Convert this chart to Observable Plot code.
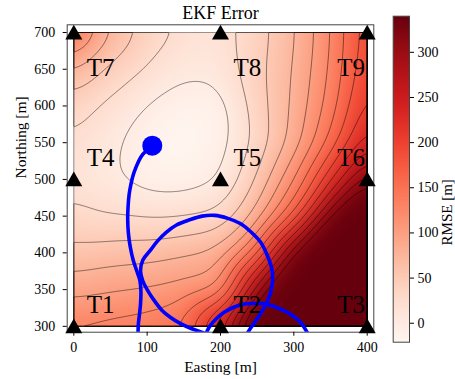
<!DOCTYPE html>
<html><head><meta charset="utf-8">
<script src="https://cdn.jsdelivr.net/npm/d3@7"></script>
<script src="https://cdn.jsdelivr.net/npm/@observablehq/plot@0.6"></script>
<style>
body{margin:0;background:#fff;}
#chart{position:relative;width:455px;height:379px;overflow:hidden;}
#chart svg{position:absolute;top:0;}
</style></head><body><div id="chart"></div>
<script>
// RMSE field (rows north -> south, columns west -> east)
const gridX = [0, 50, 100, 150, 200, 250, 300, 350, 400];
const gridY = [700, 650, 600, 550, 500, 450, 400, 350, 300];
const rmse = [
  [155, 74, 40, 20, 14, 39, 71, 123, 195],
  [78, 44, 22, 6, 8, 42, 75, 127, 200],
  [37, 18, -2, -15, -12, 38, 78, 135, 215],
  [22, 5, -15, -21, -12, 32, 82, 155, 245],
  [15, 3, -12, -14, -2, 50, 120, 215, 320],
  [33, 25, 22, 24, 30, 80, 170, 330, 410],
  [57, 62, 64, 72, 82, 160, 320, 430, 500],
  [90, 97, 102, 110, 118, 290, 420, 500, 550],
  [132, 136, 140, 152, 250, 400, 500, 550, 600]
];
const levels = [0, 25, 50, 75, 100, 125, 150, 175, 200, 225, 250, 275, 300, 325];

// Sensors
const sensorName = ["T1","T2","T3","T4","T5","T6","T7","T8","T9"];
const sensorX = [0, 200, 400, 0, 200, 400, 0, 200, 400];
const sensorY = [300, 300, 300, 500, 500, 500, 700, 700, 700];

// Trajectory (blue), three visible pieces
const trackA = [[107,546],[100,540],[94,534],[89,526],[85,517],[81,506],[78,494],[75.5,480],[74,463],[73.5,445],[74.5,426],[77,408],[81,390],[86,375],[90,363],[91.5,348],[91,331],[89.5,316],[88,303],[87.5,285]];
const trackB = [[190,283],[177,291],[160,297],[145,304],[132,312],[120,322],[109,336],[100,350],[94,362],[91,375],[94,390],[104,403],[114,416],[126,428],[140,438],[158,445],[175,450],[192,451],[210,447],[227,440],[242,428],[255,414],[264,396],[270,378],[271,362],[268,345],[262,330],[255,318],[247,306],[240,296],[233,285]];
const trackC = [[180,285],[182,294],[186,301],[195,311],[205,319],[218,326],[232,330.5],[245.5,331],[258,331],[270,328],[283,323],[296,316],[309,305.5],[318,292],[322,285]];
const startPoint = [107, 546];

const xTicks = [0, 100, 200, 300, 400];
const yTicks = [300, 350, 400, 450, 500, 550, 600, 650, 700];
const cbTicks = [0, 50, 100, 150, 200, 250, 300];
const cbDomain = [-21, 340];

const field = gridY.flatMap((y, i) => gridX.map((x, j) => ({x, y, v: rmse[i][j]})));
const sensors = sensorName.map((name, i) => ({name, x: sensorX[i], y: sensorY[i]}));
const track = [trackA, trackB, trackC].flatMap((seg, k) => seg.map(([x, y]) => ({x, y, seg: k})));

const FONT = "'Liberation Serif', 'Times New Roman', serif";
const bounds = {x1: 0, y1: 300, x2: 400, y2: 700};
const axisFont = {fontFamily: FONT, fontSize: 14};
const labelDx = d => d.x === 400 ? -30 : 13;
const labelDy = d => d.y === 700 ? 43 : -13;

const main = Plot.plot({
  width: 455, height: 379,
  marginLeft: 66.7, marginRight: 81.7, marginTop: 24.3, marginBottom: 47.3,
  style: {fontFamily: FONT, fontSize: "14px", color: "black", background: "transparent"},
  x: {domain: [-9, 409], label: null},
  y: {domain: [292, 710.5], label: null},
  color: {type: "linear", scheme: "reds", domain: cbDomain, clamp: true},
  marks: [
    Plot.raster(field, {x: "x", y: "y", fill: "v", ...bounds, interpolate: "barycentric", pixelSize: 1, blur: 10}),
    Plot.contour(field, {x: "x", y: "y", value: "v", ...bounds, interpolate: "barycentric", pixelSize: 1, blur: 12,
      thresholds: levels, fill: "none", stroke: "black", strokeOpacity: 0.45, strokeWidth: 1}),
    Plot.frame({stroke: "#444"}),
    Plot.axisX({ticks: xTicks, tickSize: 4, tickPadding: 6, label: null, ...axisFont}),
    Plot.axisY({ticks: yTicks, tickSize: 4, tickPadding: 8, label: null, ...axisFont}),
    Plot.line(track, {x: "x", y: "y", z: "seg", stroke: "#0000ff", strokeWidth: 3.6, curve: "catmull-rom", clip: "frame"}),
    Plot.dot([startPoint], {x: d => d[0], y: d => d[1], r: 10, fill: "#0000ff"}),
    Plot.dot(sensors, {x: "x", y: "y", symbol: "triangle", r: 6.3, fill: "black", dy: 2}),
    ...sensors.map(s => Plot.text([s], {x: "x", y: "y", text: "name", textAnchor: "start", lineAnchor: "bottom",
      dx: labelDx(s), dy: labelDy(s), fontSize: 25, fontFamily: FONT})),
    Plot.text(["EKF Error"], {text: d => d, frameAnchor: "top", dy: -12, fontSize: 18, lineAnchor: "middle", fontFamily: FONT}),
    Plot.text(["Easting [m]"], {text: d => d, frameAnchor: "bottom", dy: 35, fontSize: 15.5, lineAnchor: "middle", fontFamily: FONT}),
    Plot.text(["Northing [m]"], {text: d => d, frameAnchor: "left", dx: -46, rotate: -90, fontSize: 15.5, lineAnchor: "middle", fontFamily: FONT})
  ]
});
main.style.left = "0px";

const cbar = Plot.plot({
  width: 75, height: 379,
  marginLeft: 12.7, marginRight: 46, marginTop: 15.7, marginBottom: 37.3,
  style: {fontFamily: FONT, fontSize: "14px", color: "black", background: "transparent"},
  x: {domain: [0, 1], axis: null},
  y: {domain: cbDomain, axis: null},
  color: {type: "linear", scheme: "reds", domain: cbDomain},
  marks: [
    Plot.raster({x1: 0, x2: 1, y1: cbDomain[0], y2: cbDomain[1], fill: (x, y) => y, width: 1, height: 400}),
    Plot.frame({stroke: "#444"}),
    Plot.axisY({anchor: "right", ticks: cbTicks, tickSize: 4, tickPadding: 4, label: null, ...axisFont}),
    Plot.text(["RMSE [m]"], {text: d => d, frameAnchor: "right", dx: 37.5, rotate: -90, fontSize: 15, lineAnchor: "middle", fontFamily: FONT})
  ]
});
cbar.style.left = "380px";

document.getElementById("chart").append(main, cbar);
</script></body></html>
